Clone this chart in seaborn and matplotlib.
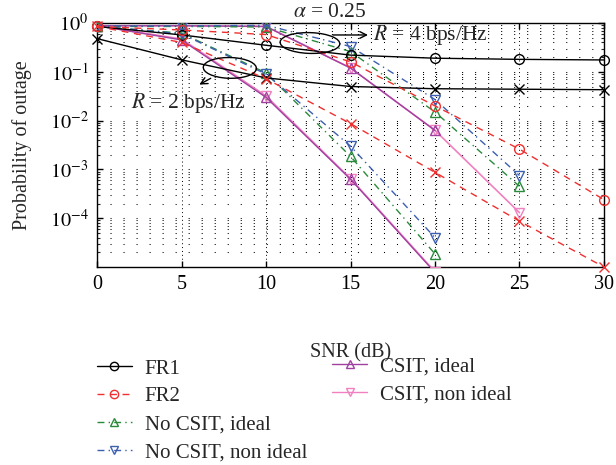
import numpy as np
import pandas as pd
import matplotlib
matplotlib.use("Agg")
import matplotlib.pyplot as plt
import seaborn as sns
from matplotlib.lines import Line2D
from matplotlib.patches import Ellipse
from matplotlib.ticker import FixedLocator, LogLocator, NullFormatter, NullLocator

# ---------------- data ----------------
snr = [0, 5, 10, 15, 20, 25, 30]

fr1_r4 = [0.85, 0.57, 0.35, 0.22, 0.19, 0.18, 0.175]
fr1_r2 = [0.48, 0.176, 0.075, 0.05, 0.045, 0.044, 0.043]
fr2_r4 = [0.85, 0.72, 0.58, 0.16, 0.02, 0.0026, 2.4e-4]
fr2_r2 = [0.85, 0.40, 0.072, 0.0087, 8.7e-4, 8.7e-5, 1.0e-5]

nocsit_ideal_r4 = [0.85, 0.85, 0.83, 0.26, 0.015, 4.5e-4]
nocsit_ideal_r2 = [0.85, 0.62, 0.095, 1.85e-3, 1.85e-5]
nocsit_nonideal_r4 = [0.87, 0.87, 0.9, 0.33, 0.027, 7.5e-4]
nocsit_nonideal_r2 = [0.87, 0.60, 0.09, 3.0e-3, 4.0e-5]

csit_ideal_r4 = [0.88, 0.88, 0.85, 0.12, 0.0063]
csit_ideal_r2 = [0.88, 0.45, 0.030, 6.3e-4, 7.7e-6]
csit_nonideal_r4 = [0.88, 0.88, 0.85, 0.12, 0.0063, 1.3e-4]
csit_nonideal_r2 = [0.88, 0.47, 0.032, 6.5e-4, 8.0e-6]

labels = ["FR1", "FR2", "No CSIT, ideal", "No CSIT, non ideal",
          "CSIT, ideal", "CSIT, non ideal"]
xticks = [0, 5, 10, 15, 20, 25, 30]
yticks = [1e-4, 1e-3, 1e-2, 1e-1, 1e0]

# ---------------- style ----------------
sns.set_theme(style="ticks")
plt.rcParams["font.family"] = ["Liberation Serif", "DejaVu Serif"]
plt.rcParams["mathtext.fontset"] = "stix"

C_FR1 = "black"
C_FR2 = "#f03030"
C_G = "#2a8a3c"
C_B = "#3c5fb0"
C_P = "#a040a0"
C_K = "#f080c0"

fig = plt.figure(figsize=(6.16, 4.65), dpi=100)
ax = fig.add_axes([0.1575, 0.4258, 0.823, 0.5247])

ms = 7


def draw(x, y, color, ls, marker, z, clip=True, lw=1.0):
    df = pd.DataFrame({"snr": x[:len(y)], "p": y})
    sns.lineplot(data=df, x="snr", y="p", ax=ax, color=color, linestyle=ls,
                 marker=marker, markersize=ms, markerfacecolor="none",
                 markeredgecolor=color, markeredgewidth=1.0, lw=lw,
                 zorder=z, clip_on=clip, legend=False)


dashdot = (0, (5, 3, 1, 3))
dashed = (0, (5, 4))
draw(snr, fr1_r4, C_FR1, "-", "o", 5, clip=False)
draw(snr, fr1_r2, C_FR1, "-", "x", 5, clip=False)
draw(snr, fr2_r4, C_FR2, dashed, "o", 5, clip=False)
draw(snr, fr2_r2, C_FR2, dashed, "x", 5, clip=False)
draw(snr, nocsit_ideal_r4, C_G, dashdot, "^", 4)
draw(snr, nocsit_ideal_r2, C_G, dashdot, "^", 4)
draw(snr, nocsit_nonideal_r4, C_B, dashdot, "v", 4)
draw(snr, nocsit_nonideal_r2, C_B, dashdot, "v", 4)
draw(snr, csit_nonideal_r4, C_K, "-", "v", 3, lw=1.2)
draw(snr, csit_nonideal_r2, C_K, "-", "v", 3, lw=1.2)
draw(snr, csit_ideal_r4, C_P, "-", "^", 3.5)
draw(snr, csit_ideal_r2, C_P, "-", "^", 3.5)

ax.set_yscale("log")
ax.set_xlim(0, 30)
ax.set_ylim(1e-5, 1)
ax.set_xticks(xticks)
ax.set_xticklabels([str(t) for t in xticks])
ax.xaxis.set_minor_locator(NullLocator())
ax.yaxis.set_major_locator(FixedLocator(yticks))
ax.yaxis.set_minor_locator(LogLocator(base=10, subs=np.arange(2, 10), numticks=20))
ax.yaxis.set_minor_formatter(NullFormatter())
ax.set_yticklabels([r"$10^{-4}$", r"$10^{-3}$", r"$10^{-2}$", r"$10^{-1}$", r"$10^{0}$"])

ax.tick_params(axis="both", which="major", direction="in", length=4, width=1,
               top=True, right=True, labelsize=14.5, colors="black", pad=6)
ax.tick_params(axis="y", which="minor", direction="in", length=2.5, width=0.8,
               right=True, left=True)
for s in ax.spines.values():
    s.set_color("black")
    s.set_linewidth(1.0)
# vertical grid at major x: dense dots; horizontal grid: sparse dots
ax.xaxis.grid(True, which="major", color="black", linestyle=(0, (1, 3)), linewidth=0.7)
ax.yaxis.grid(True, which="both", color="black", linestyle=(0, (1, 11.5)), linewidth=0.75)
ax.set_facecolor("white")

ax.set_xlabel("SNR (dB)", fontsize=14.5)
ax.set_ylabel("Probability of outage", fontsize=14.5)
ax.xaxis.set_label_coords(0.5, -0.312)
ax.yaxis.set_label_coords(-0.128, 0.5)

# ---------------- annotations ----------------
ax.add_patch(Ellipse((0.42, 0.918), 0.118, 0.085, angle=-6, transform=ax.transAxes,
                     fill=False, edgecolor="black", lw=1.0, zorder=6, clip_on=False))
ax.add_patch(Ellipse((0.262, 0.816), 0.105, 0.085, angle=-6, transform=ax.transAxes,
                     fill=False, edgecolor="black", lw=1.0, zorder=6, clip_on=False))
ax.annotate("", xy=(0.54, 0.951), xytext=(0.46, 0.951), xycoords="axes fraction",
            arrowprops=dict(arrowstyle="->", color="black", lw=1.0), zorder=6)
ax.annotate("", xy=(0.197, 0.742), xytext=(0.229, 0.779), xycoords="axes fraction",
            arrowprops=dict(arrowstyle="->", color="black", lw=1.0), zorder=6)
ax.text(0.545, 0.951, r"$R$ = 4 bps/Hz", transform=ax.transAxes, fontsize=15.5,
        ha="left", va="center", zorder=7)
ax.text(0.18, 0.672, r"$R$ = 2 bps/Hz", transform=ax.transAxes, fontsize=15.5,
        ha="center", va="center", zorder=7)
ax.text(0.46, 1.045, r"$\alpha$ = 0.25", transform=ax.transAxes, fontsize=15.5,
        ha="center", va="center")

# ---------------- legends ----------------
lm = 6
h = [
    Line2D([], [], color=C_FR1, ls="-", marker="o", ms=lm, mfc="none", lw=1.0),
    Line2D([], [], color=C_FR2, ls=dashed, marker="o", ms=lm, mfc="none", lw=1.0),
    Line2D([], [], color=C_G, ls=dashdot, marker="^", ms=lm, mfc="none", lw=1.0),
    Line2D([], [], color=C_B, ls=dashdot, marker="v", ms=lm, mfc="none", lw=1.0),
    Line2D([], [], color=C_P, ls="-", marker="^", ms=lm, mfc="none", lw=1.0),
    Line2D([], [], color=C_K, ls="-", marker="v", ms=lm, mfc="none", lw=1.0),
]
kw = dict(frameon=False, fontsize=15, handlelength=1.7, handletextpad=0.6,
          labelspacing=0.4, borderpad=0, borderaxespad=0, loc="upper left")
leg1 = fig.legend(h[:4], labels[:4], bbox_to_anchor=(0.157, 0.228), **kw)
leg2 = fig.legend(h[4:], labels[4:], bbox_to_anchor=(0.539, 0.232), **kw)

fig.savefig("out.png", dpi=100, facecolor="white")
